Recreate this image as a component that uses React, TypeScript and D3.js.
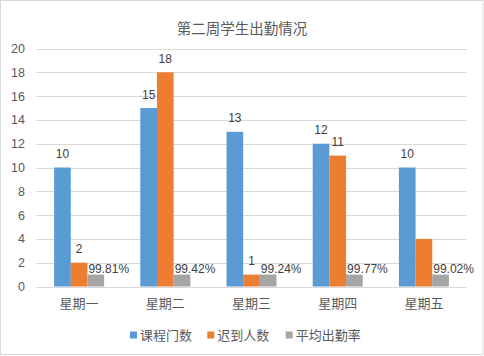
import React from "react";
import * as d3 from "d3";

const categories = ["星期一", "星期二", "星期三", "星期四", "星期五"];
const seriesNames = ["课程门数", "迟到人数", "平均出勤率"];
const courseCounts = [10, 15, 13, 12, 10];
const lateCounts = [2, 18, 1, 11, 4];
const courseLabels = ["10", "15", "13", "12", "10"];
const lateLabels = ["2", "18", "1", "11", ""];
const attendanceBar = [1, 1, 1, 1, 1];
const attendanceLabels = ["99.81%", "99.42%", "99.24%", "99.77%", "99.02%"];
const yTicks = [0, 2, 4, 6, 8, 10, 12, 14, 16, 18, 20];
const colors = ["#5B9BD5", "#ED7D31", "#A5A5A5"];
const title = "第二周学生出勤情况";

const W = 484;
const H = 356;
const numFont = "'Liberation Sans', Arial, sans-serif";
const cjkFont = "'Noto Sans CJK SC', sans-serif";

export default function App() {
  const x0 = d3
    .scaleBand<string>()
    .domain(categories)
    .range([36, 467])
    .paddingInner(0.42)
    .paddingOuter(0.21);
  const x1 = d3
    .scaleBand<string>()
    .domain(seriesNames)
    .range([0, x0.bandwidth()])
    .padding(0);
  const y = d3.scaleLinear().domain([0, 20]).range([286.5, 48.5]);

  const seriesData = [courseCounts, lateCounts, attendanceBar];
  const seriesLabels = [courseLabels, lateLabels];

  const legendX = [130, 207.3, 285.7];

  return (
    <svg
      width={W}
      height={H}
      style={{ position: "absolute", left: 0, top: 0, background: "#fff" }}
    >
      <rect x={0.5} y={0.5} width={W - 1.5} height={H - 2} fill="#fff" stroke="#D9D9D9" />
      <text
        x={242}
        y={34}
        textAnchor="middle"
        fontFamily={cjkFont}
        fontSize={14.5}
        fill="#595959"
      >
        {title}
      </text>
      {yTicks.map((t) => (
        <g key={t}>
          <line
            x1={36}
            x2={467}
            y1={Math.round(y(t)) + 0.5}
            y2={Math.round(y(t)) + 0.5}
            stroke="#D9D9D9"
            strokeWidth={1}
          />
          <text
            x={25}
            y={y(t) + 4.5}
            textAnchor="end"
            fontFamily={numFont}
            fontSize={12.5}
            fill="#595959"
          >
            {t}
          </text>
        </g>
      ))}
      {categories.map((c, i) => (
        <g key={c}>
          {seriesData.map((vals, s) => {
            const bx = (x0(c) as number) + (x1(seriesNames[s]) as number);
            const bw = x1.bandwidth();
            const top = y(vals[i]);
            return (
              <rect
                key={s}
                x={bx}
                y={top}
                width={bw}
                height={y(0) - top}
                fill={colors[s]}
              />
            );
          })}
          {[courseCounts, lateCounts].map((vals, s) => {
            const bx = (x0(c) as number) + (x1(seriesNames[s]) as number);
            const label = seriesLabels[s][i];
            if (!label) return null;
            return (
              <text
                key={"l" + s}
                x={bx + x1.bandwidth() / 2}
                y={y(vals[i]) - 9.5}
                textAnchor="middle"
                fontFamily={numFont}
                fontSize={12}
                fill="#404040"
              >
                {label}
              </text>
            );
          })}
          <text
            x={(x0(c) as number) + (x1(seriesNames[2]) as number) + 1}
            y={y(attendanceBar[i]) - 1.5}
            textAnchor="start"
            fontFamily={numFont}
            fontSize={12}
            fill="#404040"
          >
            {attendanceLabels[i]}
          </text>
          <text
            x={(x0(c) as number) + x0.bandwidth() / 2}
            y={308}
            textAnchor="middle"
            fontFamily={cjkFont}
            fontSize={13}
            fill="#595959"
          >
            {c}
          </text>
        </g>
      ))}
      {seriesNames.map((n, s) => (
        <g key={n}>
          <rect x={legendX[s]} y={331.5} width={7} height={7} fill={colors[s]} />
          <text
            x={legendX[s] + 10}
            y={339.5}
            fontFamily={cjkFont}
            fontSize={13}
            fill="#595959"
          >
            {n}
          </text>
        </g>
      ))}
    </svg>
  );
}
